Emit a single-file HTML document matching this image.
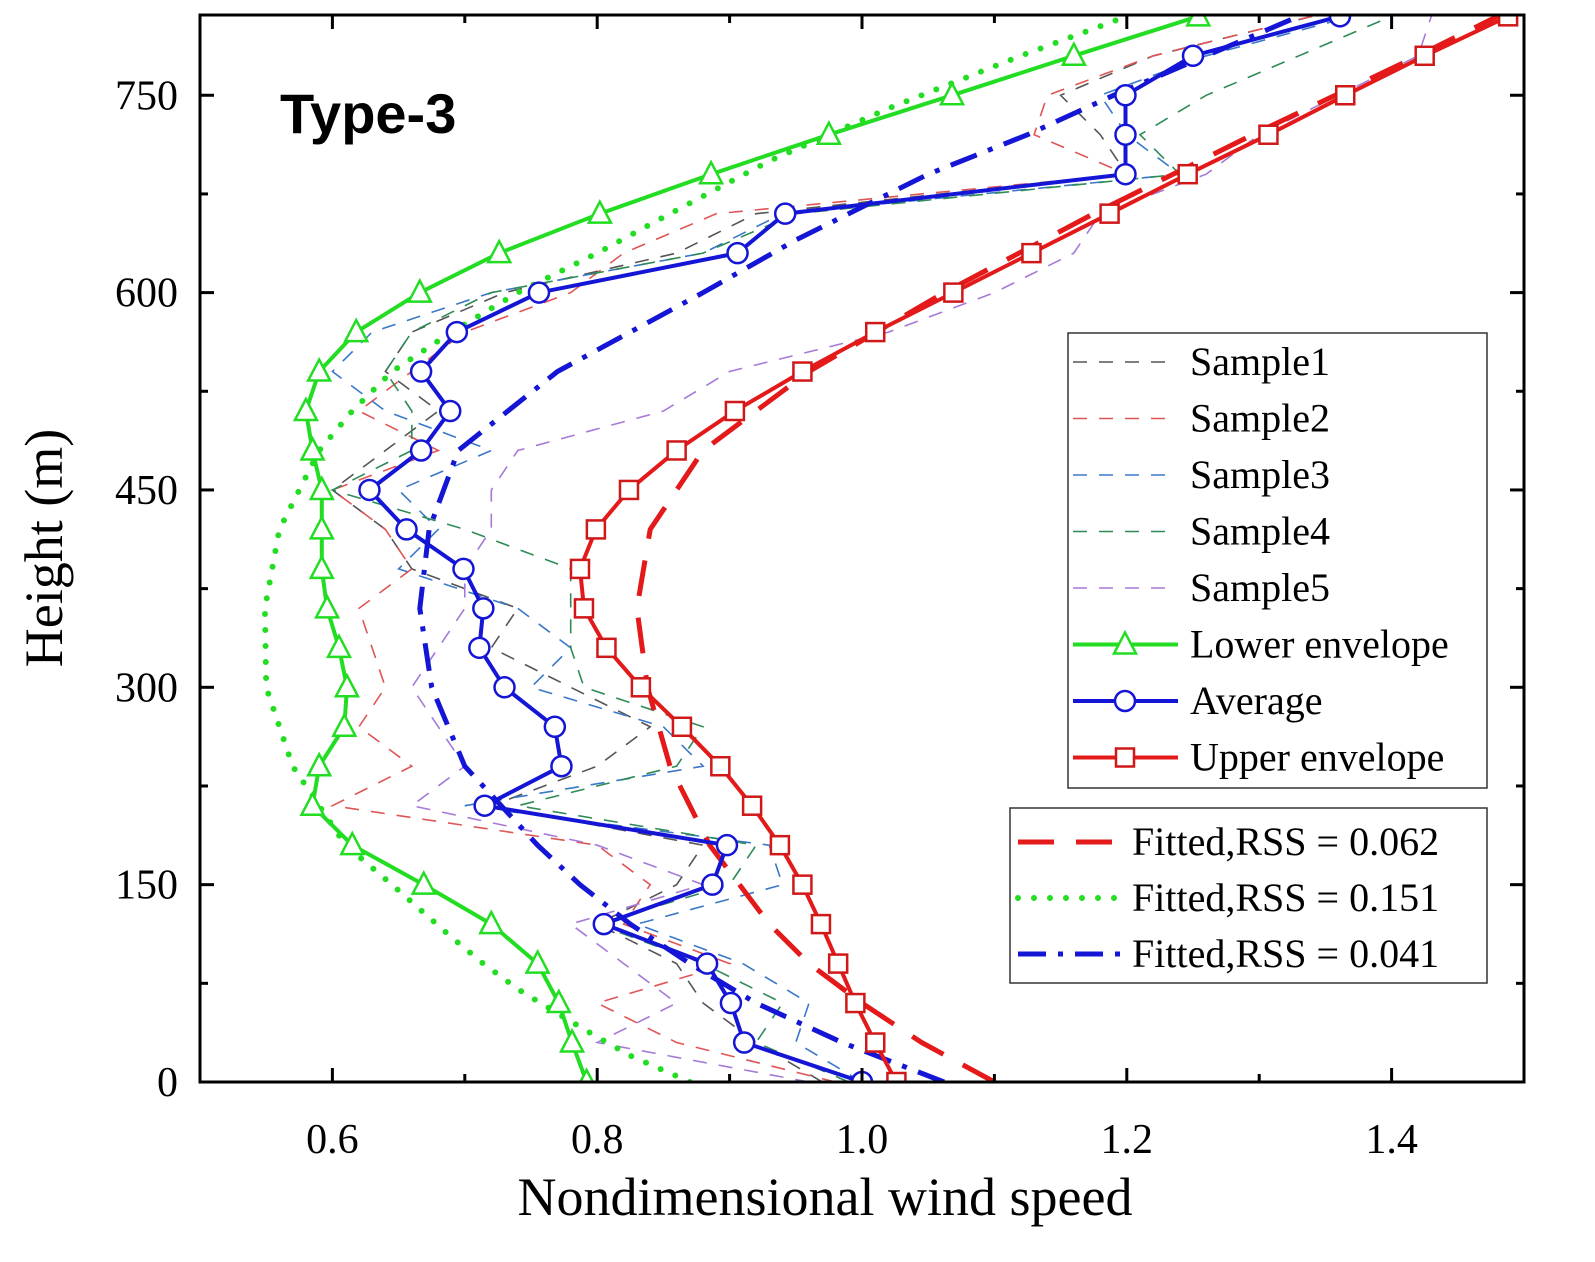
<!DOCTYPE html>
<html><head><meta charset="utf-8"><style>
html,body{margin:0;padding:0;background:#fff;}
svg{display:block;font-family:"Liberation Serif",serif;}
</style></head><body>
<svg id="chart" width="1595" height="1262" viewBox="0 0 1595 1262" xmlns="http://www.w3.org/2000/svg">
<g id="plot"></g>
</svg>
<script>
const heights=[0,30,60,90,120,150,180,210,240,270,300,330,360,390,420,450,480,510,540,570,600,630,660,690,720,750,780,810];
const avg=[1.0,0.911,0.901,0.883,0.805,0.887,0.898,0.715,0.773,0.768,0.730,0.711,0.714,0.699,0.656,0.628,0.667,0.689,0.667,0.694,0.756,0.906,0.942,1.199,1.199,1.199,1.250,1.361];
const upper=[1.026,1.010,0.995,0.982,0.969,0.955,0.938,0.917,0.893,0.864,0.833,0.807,0.790,0.787,0.799,0.824,0.860,0.904,0.955,1.010,1.069,1.128,1.187,1.246,1.307,1.365,1.425,1.488];
const lower=[0.792,0.781,0.771,0.755,0.720,0.669,0.615,0.585,0.590,0.609,0.611,0.605,0.596,0.592,0.592,0.592,0.585,0.580,0.590,0.618,0.666,0.726,0.802,0.886,0.975,1.068,1.160,1.254];
const s1=[0.97,0.92,0.88,0.86,0.80,0.86,0.88,0.72,0.80,0.84,0.78,0.72,0.74,0.66,0.64,0.60,0.64,0.68,0.64,0.66,0.73,0.86,0.92,1.20,1.18,1.15,1.22,1.34];
const s2=[0.98,0.86,0.80,0.90,0.82,0.84,0.80,0.60,0.66,0.62,0.64,0.63,0.62,0.66,0.64,0.60,0.68,0.62,0.66,0.70,0.78,0.82,0.89,1.20,1.13,1.14,1.22,1.34];
const s3=[1.00,0.95,0.96,0.91,0.83,0.94,0.93,0.70,0.88,0.85,0.75,0.78,0.74,0.65,0.68,0.65,0.72,0.64,0.60,0.63,0.72,0.88,0.94,1.24,1.20,1.18,1.26,1.37];
const s4=[0.99,0.92,0.94,0.88,0.80,0.90,0.92,0.74,0.86,0.88,0.79,0.78,0.78,0.78,0.70,0.60,0.66,0.66,0.64,0.66,0.72,0.88,0.95,1.24,1.21,1.26,1.33,1.40];
const s5=[0.96,0.80,0.86,0.82,0.78,0.88,0.80,0.66,0.70,0.68,0.66,0.68,0.70,0.70,0.72,0.72,0.74,0.85,0.90,1.02,1.10,1.16,1.18,1.26,1.30,1.36,1.42,1.43];
const redH=[0,30,60,90,120,180,240,300,360,420,480,540,600,660,720,780,810];
const fitRed=[1.100,1.045,1.000,0.960,0.930,0.885,0.855,0.838,0.830,0.840,0.880,0.960,1.062,1.175,1.295,1.420,1.480];
const blueH=[0,30,60,90,120,150,180,240,300,360,420,480,540,600,640,690,720,750,780,810];
const fitBlue=[1.062,0.985,0.920,0.870,0.825,0.787,0.755,0.700,0.675,0.666,0.673,0.695,0.770,0.880,0.950,1.050,1.125,1.190,1.260,1.330];
const greenH=[0,20,40,70,90,110,150,180,240,300,360,420,480,510,540,570,600,630,660,700,740,780,810];
const fitGreen=[0.870,0.825,0.790,0.741,0.714,0.690,0.645,0.610,0.570,0.550,0.549,0.560,0.590,0.615,0.645,0.690,0.740,0.800,0.855,0.930,1.020,1.120,1.200];
const xTicks=[0.6,0.8,1.0,1.2,1.4];
const xTickLabels=["0.6","0.8","1.0","1.2","1.4"];
const yTicks=[0,150,300,450,600,750];

const X0=200,X1=1524,Y0=1082,Y1=15;
const xs=v=>X0+(v-0.5)*(X1-X0)/1.0;
const ys=h=>Y0-h*(Y0-Y1)/811;
const NS="http://www.w3.org/2000/svg";
const plot=document.getElementById('plot');
function mk(tag,attrs,parent){const e=document.createElementNS(NS,tag);for(const k in attrs)e.setAttribute(k,attrs[k]);(parent||plot).appendChild(e);return e;}
const clip=mk('clipPath',{id:'cp'});mk('rect',{x:X0,y:Y1,width:X1-X0,height:Y0-Y1},clip);
const g=mk('g',{'clip-path':'url(#cp)'});


function line(vals,hs,stroke,w,dash,name,cap){
  const d=vals.map((v,i)=>(i?'L':'M')+xs(v).toFixed(1)+','+ys(hs[i]).toFixed(1)).join('');
  const p=mk('path',{d:d,fill:'none',stroke:stroke,'stroke-width':w,'stroke-dasharray':dash||'none','stroke-linecap':cap||'butt'},g);
  
  
}
line(s1,heights,'#555',1.6,'14 12','sample1-line');
line(s2,heights,'#e05555',1.6,'14 12','sample2-line');
line(s3,heights,'#3a78c8',1.6,'14 12','sample3-line');
line(s4,heights,'#2e8b57',1.6,'14 12','sample4-line');
line(s5,heights,'#a57ad8',1.6,'14 12','sample5-line');
line(fitRed,redH,'#e41a1a',5,'36 22','fitted-red-line');
line(fitGreen,greenH,'#22dd22',6,'0 16','fitted-green-line','round');
line(fitBlue,blueH,'#1515d5',5,'28 12 5 12','fitted-blue-line');
line(lower,heights,'#22dd22',4,null,'lower-envelope-line');
line(avg,heights,'#1515d5',4,null,'average-line');
line(upper,heights,'#e41a1a',4,null,'upper-envelope-line');
lower.forEach((v,i)=>{const x=xs(v),y=ys(heights[i]);
  const t=mk('polygon',{points:`${x},${y-12} ${x-11},${y+9} ${x+11},${y+9}`,fill:'#fff',stroke:'#22dd22','stroke-width':2.5},g);
  
  });
avg.forEach((v,i)=>{const c=mk('circle',{cx:xs(v),cy:ys(heights[i]),r:10,fill:'#fff',stroke:'#1515d5','stroke-width':2.5},g);
  
  });
upper.forEach((v,i)=>{const r=mk('rect',{x:xs(v)-9,y:ys(heights[i])-9,width:18,height:18,fill:'#fff',stroke:'#d01818','stroke-width':2.5},g);
  
  });

const fr=mk('rect',{x:X0,y:Y1,width:X1-X0,height:Y0-Y1,fill:'none',stroke:'#000','stroke-width':3});


xTicks.forEach((v,i)=>{const x=xs(v);
  mk('line',{x1:x,y1:Y0,x2:x,y2:Y0-14,stroke:'#000','stroke-width':3});
  mk('line',{x1:x,y1:Y1,x2:x,y2:Y1+14,stroke:'#000','stroke-width':3});
  const xm=xs(v-0.1);
  mk('line',{x1:xm,y1:Y0,x2:xm,y2:Y0-8,stroke:'#000','stroke-width':3});
  mk('line',{x1:xm,y1:Y1,x2:xm,y2:Y1+8,stroke:'#000','stroke-width':3});
  const t=mk('text',{x:x,y:1153,'text-anchor':'middle','font-size':42});t.textContent=xTickLabels[i];
  
  });
yTicks.forEach(h=>{const y=ys(h);
  mk('line',{x1:X0,y1:y,x2:X0+14,y2:y,stroke:'#000','stroke-width':3});
  mk('line',{x1:X1,y1:y,x2:X1-14,y2:y,stroke:'#000','stroke-width':3});
  const ym=ys(h+75);
  if(h+75<811){mk('line',{x1:X0,y1:ym,x2:X0+8,y2:ym,stroke:'#000','stroke-width':3});
  mk('line',{x1:X1,y1:ym,x2:X1-8,y2:ym,stroke:'#000','stroke-width':3});}
  const t=mk('text',{x:178,y:y+14,'text-anchor':'end','font-size':42});t.textContent=String(h);
  
  });
let t=mk('text',{x:825,y:1215,'text-anchor':'middle','font-size':54});t.textContent='Nondimensional wind speed';


t=mk('text',{x:62,y:548,'text-anchor':'middle','font-size':54,transform:'rotate(-90 62 548)'});t.textContent='Height (m)';


t=mk('text',{x:280,y:133,'font-size':56,'font-weight':'bold','font-family':'Liberation Sans, sans-serif'});t.textContent='Type-3';



const lg=mk('g',{});


mk('rect',{x:1068,y:333,width:419,height:455,fill:'#fff',stroke:'#333','stroke-width':1.5},lg);
const items=[['Sample1','#555','s'],['Sample2','#e05555','s'],['Sample3','#3a78c8','s'],['Sample4','#2e8b57','s'],['Sample5','#a57ad8','s'],['Lower envelope','#22dd22','tri'],['Average','#1515d5','circ'],['Upper envelope','#e41a1a','sq']];
items.forEach((it,i)=>{const y=362+i*56.5;
  const e=mk('g',{},lg);
  
  
  if(it[2]==='s') mk('line',{x1:1073,y1:y,x2:1168,y2:y,stroke:it[1],'stroke-width':1.6,'stroke-dasharray':'14 12'},e);
  else {mk('line',{x1:1073,y1:y,x2:1178,y2:y,stroke:it[1],'stroke-width':4},e);
    if(it[2]==='tri') mk('polygon',{points:`1125,${y-12} 1114,${y+9} 1136,${y+9}`,fill:'#fff',stroke:it[1],'stroke-width':2.5},e);
    if(it[2]==='circ') mk('circle',{cx:1125,cy:y,r:10,fill:'#fff',stroke:it[1],'stroke-width':2.5},e);
    if(it[2]==='sq') mk('rect',{x:1116,y:y-9,width:18,height:18,fill:'#fff',stroke:'#d01818','stroke-width':2.5},e);}
  const tx=mk('text',{x:1190,y:y+13,'font-size':40},e);tx.textContent=it[0];});
const lg2=mk('g',{});


mk('rect',{x:1010,y:808,width:477,height:175,fill:'#fff',stroke:'#333','stroke-width':1.5},lg2);
const fits=[['Fitted,RSS = 0.062','#e41a1a','36 22',5,'butt'],['Fitted,RSS = 0.151','#22dd22','0 16',6,'round'],['Fitted,RSS = 0.041','#1515d5','28 12 5 12',5,'butt']];
fits.forEach((f,i)=>{const y=842+i*56;
  const e=mk('g',{},lg2);
  
  
  mk('line',{x1:1018,y1:y,x2:1122,y2:y,stroke:f[1],'stroke-width':f[3],'stroke-dasharray':f[2],'stroke-linecap':f[4]},e);
  const tx=mk('text',{x:1132,y:y+13,'font-size':40},e);tx.textContent=f[0];});
</script>
</body></html>
